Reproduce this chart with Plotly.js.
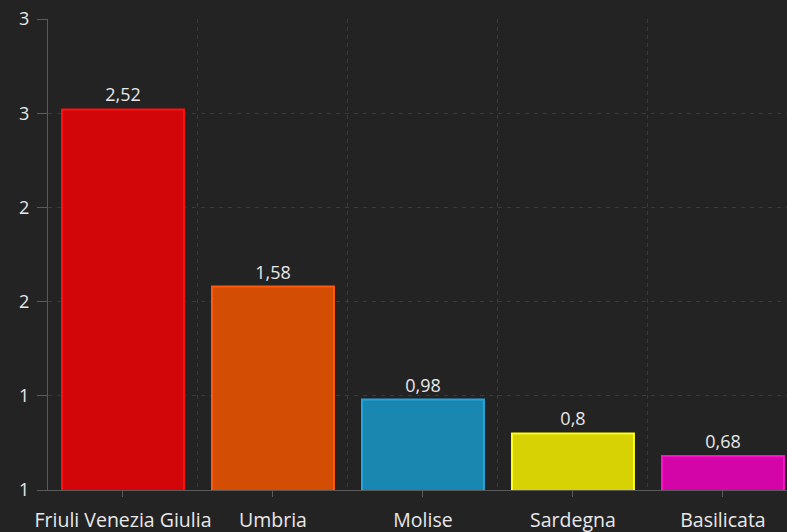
<!DOCTYPE html>
<html><head><meta charset="utf-8">
<script src="https://cdn.plot.ly/plotly-3.0.1.min.js"></script>
<style>html,body{margin:0;padding:0;background:#232323;}#chart{width:787px;height:532px;}</style>
</head><body><div id="chart"></div>
<script>
const categories = ["Friuli Venezia Giulia", "Umbria", "Molise", "Sardegna", "Basilicata"];
const values = [2.52, 1.58, 0.98, 0.8, 0.68];
const fillColors = ["#d20608", "#d44d05", "#1a87b0", "#d6d204", "#d405a8"];
const lineColors = ["#ff1010", "#ff5a0a", "#22a6e0", "#ffff10", "#ff10cc"];
const yTickVals = [0.5, 1, 1.5, 2, 2.5, 3];
const yTickText = ["1", "1", "2", "2", "3", "3"];

const xIdx = categories.map((c, i) => i);
const trace = {
  type: "bar",
  x: xIdx,
  y: values,
  text: values.map(v => String(v).replace(".", ",")),
  textposition: "outside",
  textfont: {color: "#e8e8e8", size: 18, family: "Open Sans"},
  marker: {color: fillColors, line: {color: lineColors, width: 2}},
  hoverinfo: "none",
  cliponaxis: false
};
const layout = {
  width: 787, height: 532,
  margin: {l: 48, r: 0, t: 19, b: 42, pad: 0},
  paper_bgcolor: "#232323", plot_bgcolor: "#232323",
  font: {family: "Open Sans", color: "#e0e0e0", size: 16},
  bargap: 0.187,
  showlegend: false,
  xaxis: {
    range: [-0.5, 4.427],
    tickmode: "array", tickvals: xIdx, ticktext: categories,
    showgrid: false, zeroline: false,
    showline: true, linecolor: "#5a5a5a", linewidth: 1,
    ticks: "outside", ticklen: 6, tickcolor: "#5a5a5a",
    ticklabelstandoff: 7,
    tickfont: {size: 19.5, color: "#e8e8e8"},
    minor: {tickmode: "linear", tick0: 0.5, dtick: 1, showgrid: true, gridcolor: "#3a3a3a", griddash: "4px,4px", gridwidth: 1, ticks: ""},
    fixedrange: true
  },
  yaxis: {
    range: [0.5, 3.0],
    tickmode: "array", tickvals: yTickVals, ticktext: yTickText,
    showgrid: true, gridcolor: "#3a3a3a", griddash: "4px,5px", gridwidth: 1,
    zeroline: false,
    showline: true, linecolor: "#5a5a5a", linewidth: 1,
    ticks: "outside", ticklen: 10, tickcolor: "#5a5a5a",
    ticklabelstandoff: 4,
    tickfont: {size: 18, color: "#e8e8e8"},
    fixedrange: true
  }
};
Plotly.newPlot("chart", [trace], layout, {staticPlot: true, displayModeBar: false});
</script></body></html>
